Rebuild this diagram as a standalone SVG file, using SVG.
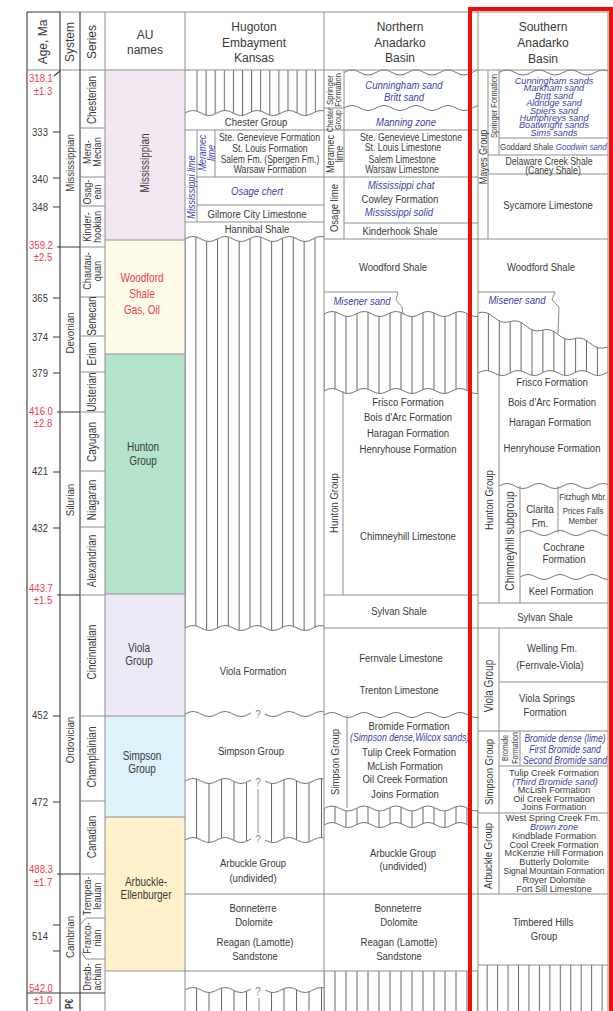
<svg xmlns="http://www.w3.org/2000/svg" width="613" height="1011" viewBox="0 0 613 1011">
<defs>
<style>
text{font-family:"Liberation Sans",Arial,sans-serif;font-size:11.5px;fill:#3a3a3a;text-anchor:middle;dominant-baseline:central}
.h{font-size:12px}
.i{font-style:italic;fill:#3c3fa6}
.r{fill:#e8404a}
.s{font-size:10.5px}
.m{font-size:11px}
.xs{font-size:9.5px}
.au{font-size:12px}
.q{font-size:10px;fill:#888}
.ln{fill:none;stroke:#8e8e8e;stroke-width:1}
.dk{fill:none;stroke:#3a3a3a;stroke-width:1.1}
.wv{fill:none;stroke:#777;stroke-width:1}
</style>
<pattern id="hH" patternUnits="userSpaceOnUse" x="184.5" y="0" width="10.83" height="10"><line x1="0.5" y1="0" x2="0.5" y2="10" stroke="#666" stroke-width="1"/></pattern>
<pattern id="hH9" patternUnits="userSpaceOnUse" x="187.4" y="0" width="9.1" height="10"><line x1="0.5" y1="0" x2="0.5" y2="10" stroke="#666" stroke-width="1"/></pattern>
<pattern id="hH3" patternUnits="userSpaceOnUse" x="183.5" y="0" width="12.5" height="10"><line x1="0.5" y1="0" x2="0.5" y2="10" stroke="#666" stroke-width="1"/></pattern>
<pattern id="hN" patternUnits="userSpaceOnUse" x="323.5" y="0" width="11" height="10"><line x1="0.5" y1="0" x2="0.5" y2="10" stroke="#666" stroke-width="1"/></pattern>
<pattern id="hS" patternUnits="userSpaceOnUse" x="477" y="0" width="10.9" height="10"><line x1="0.5" y1="0" x2="0.5" y2="10" stroke="#666" stroke-width="1"/></pattern>
<pattern id="hS2" patternUnits="userSpaceOnUse" x="476.2" y="0" width="10.45" height="10"><line x1="0.5" y1="0" x2="0.5" y2="10" stroke="#666" stroke-width="1"/></pattern>
<clipPath id="cH"><rect x="185" y="0" width="139" height="1011"/></clipPath>
<clipPath id="cN"><rect x="324" y="0" width="154" height="1011"/></clipPath>
<clipPath id="cS"><rect x="478" y="0" width="130" height="1011"/></clipPath>
</defs>
<rect x="0" y="0" width="613" height="1011" fill="#fff"/>

<g id="au-column">
<rect x="105" y="70" width="80" height="170" fill="#f3e7f1"/>
<rect x="105" y="240" width="80" height="114" fill="#fefce8"/>
<rect x="105" y="354" width="80" height="240" fill="#b4e4cb"/>
<rect x="105" y="594" width="80" height="122" fill="#eceaf6"/>
<rect x="105" y="716" width="80" height="101" fill="#ddf2fb"/>
<rect x="105" y="817" width="80" height="154" fill="#fff1c9"/>
<path class="ln" d="M105,240H185 M105,354H185 M105,594H185 M105,716H185 M105,817H185 M105,971H185"/>
<text class="h" x="145" y="35">AU</text>
<text class="h" x="145" y="50">names</text>
<text class="au" transform="matrix(0 -.83 1 0 145 163)">Mississippian</text>
<text class="au r" transform="matrix(.83 0 0 1 142 278)">Woodford</text>
<text class="au r" transform="matrix(.83 0 0 1 142 294)">Shale</text>
<text class="au r" transform="matrix(.83 0 0 1 142 310)">Gas, Oil</text>
<text class="au" transform="matrix(.83 0 0 1 143 447)">Hunton</text>
<text class="au" transform="matrix(.83 0 0 1 143 461)">Group</text>
<text class="au" transform="matrix(.83 0 0 1 139 648)">Viola</text>
<text class="au" transform="matrix(.83 0 0 1 139 661)">Group</text>
<text class="au" transform="matrix(.83 0 0 1 142 756)">Simpson</text>
<text class="au" transform="matrix(.83 0 0 1 142 769)">Group</text>
<text class="au" transform="matrix(.83 0 0 1 146 882)">Arbuckle-</text>
<text class="au" transform="matrix(.83 0 0 1 146 895)">Ellenburger</text>
</g>

<g id="hugoton">
<path clip-path="url(#cH)" fill="url(#hH9)" d="M185,70H329V113 q-8,-5 -16,0 t-16,0 t-16,0 t-16,0 t-16,0 t-16,0 t-16,0 t-16,0 t-16,0Z"/>
<rect x="186" y="71" width="6" height="46" fill="#fff"/>
<path clip-path="url(#cH)" fill="url(#hH)" d="M185,239 q8,-5 16,0 t16,0 t16,0 t16,0 t16,0 t16,0 t16,0 t16,0 t16,0 L329,628 q-8,-5 -16,0 t-16,0 t-16,0 t-16,0 t-16,0 t-16,0 t-16,0 t-16,0 t-16,0Z"/>
<path clip-path="url(#cH)" fill="url(#hH3)" d="M185,781 q8,-5 16,0 t16,0 t16,0 t16,0 t16,0 t16,0 t16,0 t16,0 t16,0 L329,840 q-8,-5 -16,0 t-16,0 t-16,0 t-16,0 t-16,0 t-16,0 t-16,0 t-16,0 t-16,0Z"/>
<path clip-path="url(#cH)" fill="url(#hH3)" d="M185,990 q8,-5 16,0 t16,0 t16,0 t16,0 t16,0 t16,0 t16,0 t16,0 t16,0 L329,1011H185Z"/>
<path clip-path="url(#cH)" class="wv" d="M185,113 q8,-5 16,0 t16,0 t16,0 t16,0 t16,0 t16,0 t16,0 t16,0 t16,0 M185,239 q8,-5 16,0 t16,0 t16,0 t16,0 t16,0 t16,0 t16,0 t16,0 t16,0 M185,628 q8,-5 16,0 t16,0 t16,0 t16,0 t16,0 t16,0 t16,0 t16,0 t16,0 M185,714 q8,-5 16,0 t16,0 t16,0 t16,0 t16,0 t16,0 t16,0 t16,0 t16,0 M185,781 q8,-5 16,0 t16,0 t16,0 t16,0 t16,0 t16,0 t16,0 t16,0 t16,0 M185,840 q8,-5 16,0 t16,0 t16,0 t16,0 t16,0 t16,0 t16,0 t16,0 t16,0 M185,990 q8,-5 16,0 t16,0 t16,0 t16,0 t16,0 t16,0 t16,0 t16,0 t16,0"/>
<rect x="251" y="707" width="14" height="14" fill="#fff"/>
<rect x="251" y="774" width="14" height="74" fill="#fff"/>
<rect x="251" y="983" width="14" height="28" fill="#fff"/>
<path class="ln" d="M258,789V833 M259,998V1011"/>
<text class="q" x="258" y="714">?</text>
<text class="q" x="258" y="782">?</text>
<text class="q" x="258" y="839">?</text>
<text class="q" x="258" y="991">?</text>
<path class="ln" d="M185,130H324 M197,130V222 M215,130V177 M197,177H324 M197,205H324 M185,222H324 M185,894H324 M185,971H324"/>
<text class="h" x="254" y="27">Hugoton</text>
<text class="h" x="254" y="43">Embayment</text>
<text class="h" x="254" y="58">Kansas</text>
<text transform="matrix(.83 0 0 1 256 122)">Chester Group</text>
<text class="i m" transform="matrix(0 -.83 1 0 191.5 187)">Mississippi lime</text>
<text class="i s" transform="matrix(0 -.83 1 0 202 153)">Meramec</text>
<text class="i s" transform="matrix(0 -.83 1 0 211 153)">lime</text>
<text class="s" transform="matrix(.83 0 0 1 269.5 137)">Ste. Genevieve Formation</text>
<text class="s" transform="matrix(.83 0 0 1 270 148)">St. Louis Formation</text>
<text style="font-size:10.3px" transform="matrix(.83 0 0 1 270 159)">Salem Fm. (Spergen Fm.)</text>
<text class="s" transform="matrix(.83 0 0 1 270 169)">Warsaw Formation</text>
<text class="i" transform="matrix(.83 0 0 1 257 191)">Osage chert</text>
<text transform="matrix(.83 0 0 1 257 214)">Gilmore City Limestone</text>
<text transform="matrix(.83 0 0 1 257 229)">Hannibal Shale</text>
<text transform="matrix(.83 0 0 1 253 671)">Viola Formation</text>
<text transform="matrix(.83 0 0 1 251 751)">Simpson Group</text>
<text transform="matrix(.83 0 0 1 253 863)">Arbuckle Group</text>
<text transform="matrix(.83 0 0 1 253 878)">(undivided)</text>
<text transform="matrix(.83 0 0 1 253 908)">Bonneterre</text>
<text transform="matrix(.83 0 0 1 254 922)">Dolomite</text>
<text transform="matrix(.83 0 0 1 255 942)">Reagan (Lamotte)</text>
<text transform="matrix(.83 0 0 1 255 956)">Sandstone</text>
</g>

<g id="northern">
<path clip-path="url(#cN)" fill="url(#hN)" d="M324,314 q8,-5 16,0 t16,0 t16,0 t16,0 t16,0 t16,0 t16,0 t16,0 t16,0 t16,0 L484,391 q-8,5 -16,0 t-16,0 t-16,0 t-16,0 t-16,0 t-16,0 t-16,0 t-16,0 t-16,0 t-16,0Z"/>
<path clip-path="url(#cN)" fill="url(#hN)" d="M324,808.5 q8,-5 16,0 t16,0 t16,0 t16,0 t16,0 t16,0 t16,0 t16,0 t16,0 t16,0 L484,825 q-8,5 -16,0 t-16,0 t-16,0 t-16,0 t-16,0 t-16,0 t-16,0 t-16,0 t-16,0 t-16,0Z"/>
<rect x="324" y="971" width="154" height="40" fill="url(#hN)"/>
<path clip-path="url(#cN)" class="wv" d="M344,72.5 q8,-5 16,0 t16,0 t16,0 t16,0 t16,0 t16,0 t16,0 t16,0 t16,0 M344,108 q8,-5 16,0 t16,0 t16,0 t16,0 t16,0 t16,0 t16,0 t16,0 t16,0 M324,314 q8,-5 16,0 t16,0 t16,0 t16,0 t16,0 t16,0 t16,0 t16,0 t16,0 t16,0 M324,391 q8,-5 16,0 t16,0 t16,0 t16,0 t16,0 t16,0 t16,0 t16,0 t16,0 t16,0 M324,715 q8,-5 16,0 t16,0 t16,0 t16,0 t16,0 t16,0 t16,0 t16,0 t16,0 t16,0 M324,808.5 q8,-5 16,0 t16,0 t16,0 t16,0 t16,0 t16,0 t16,0 t16,0 t16,0 t16,0 M324,825 q8,-5 16,0 t16,0 t16,0 t16,0 t16,0 t16,0 t16,0 t16,0 t16,0 t16,0"/>
<path class="ln" d="M344,70V239 M324,108H344 M324,130H478 M324,177H478 M344,223H478 M324,239H478 M343,391V595 M324,595H478 M324,628H478 M347,715V808 M324,894H478 M324,971H478 M324,292H398L396,300L402,307L403,315"/>
<text class="h" x="400" y="27">Northern</text>
<text class="h" x="400" y="43">Anadarko</text>
<text class="h" x="400" y="58">Basin</text>
<text style="font-size:9.5px" transform="matrix(0 -.83 1 0 329.5 90)">Springer</text>
<text style="font-size:9px" transform="matrix(0 -.83 1 0 338.5 90)">Formation</text>
<text class="i" transform="matrix(.83 0 0 1 404 85)">Cunningham sand</text>
<text class="i" transform="matrix(.83 0 0 1 404 97)">Britt sand</text>
<text style="font-size:8.5px" transform="matrix(0 -.83 1 0 330 120)">Chester</text>
<text style="font-size:8.5px" transform="matrix(0 -.83 1 0 338.5 120)">Group</text>
<text class="i" transform="matrix(.83 0 0 1 406 122)">Manning zone</text>
<text class="m" transform="matrix(0 -.83 1 0 330 154)">Meramec</text>
<text class="m" transform="matrix(0 -.83 1 0 339 154)">lime</text>
<text class="s" transform="matrix(.83 0 0 1 411 137)">Ste. Genevieve Limestone</text>
<text class="s" transform="matrix(.83 0 0 1 403 147)">St. Louis Limestone</text>
<text class="s" transform="matrix(.83 0 0 1 402 159)">Salem Limestone</text>
<text class="s" transform="matrix(.83 0 0 1 402 169)">Warsaw Limestone</text>
<text transform="matrix(0 -.83 1 0 334 208)">Osage lime</text>
<text class="i" transform="matrix(.83 0 0 1 401 185)">Mississippi chat</text>
<text transform="matrix(.83 0 0 1 400 199)">Cowley Formation</text>
<text class="i" transform="matrix(.83 0 0 1 399 212)">Mississippi solid</text>
<text transform="matrix(.83 0 0 1 400 231)">Kinderhook Shale</text>
<text transform="matrix(.83 0 0 1 393 267)">Woodford Shale</text>
<text class="i" transform="matrix(.83 0 0 1 362 301)">Misener sand</text>
<text transform="matrix(0 -.83 1 0 334 503)">Hunton Group</text>
<text transform="matrix(.83 0 0 1 408 402)">Frisco Formation</text>
<text transform="matrix(.83 0 0 1 408 417)">Bois d'Arc Formation</text>
<text transform="matrix(.83 0 0 1 408 433)">Haragan Formation</text>
<text transform="matrix(.83 0 0 1 408 449)">Henryhouse Formation</text>
<text transform="matrix(.83 0 0 1 408 536)">Chimneyhill Limestone</text>
<text transform="matrix(.83 0 0 1 399 611)">Sylvan Shale</text>
<text transform="matrix(.83 0 0 1 401 658)">Fernvale Limestone</text>
<text transform="matrix(.83 0 0 1 399 690)">Trenton Limestone</text>
<text transform="matrix(0 -.83 1 0 335 762)">Simpson Group</text>
<text transform="matrix(.83 0 0 1 409 726)">Bromide Formation</text>
<text class="i s" style="text-anchor:start" transform="matrix(.83 0 0 1 350 737)">(Simpson dense,Wilcox sands)</text>
<text transform="matrix(.83 0 0 1 409 752)">Tulip Creek Formation</text>
<text transform="matrix(.83 0 0 1 405 766)">McLish Formation</text>
<text transform="matrix(.83 0 0 1 405 779)">Oil Creek Formation</text>
<text transform="matrix(.83 0 0 1 405 794)">Joins Formation</text>
<text transform="matrix(.83 0 0 1 403 853)">Arbuckle Group</text>
<text transform="matrix(.83 0 0 1 403 866)">(undivided)</text>
<text transform="matrix(.83 0 0 1 398 908)">Bonneterre</text>
<text transform="matrix(.83 0 0 1 399 922)">Dolomite</text>
<text transform="matrix(.83 0 0 1 399 942)">Reagan (Lamotte)</text>
<text transform="matrix(.83 0 0 1 399 956)">Sandstone</text>
</g>

<g id="southern">
<path clip-path="url(#cS)" fill="url(#hS)" d="M478,313 q8,-2.85 16,4.3 t16,4.3 t16,4.3 t16,4.3 t16,4.3 t16,4.3 t16,4.3 t16,4.3 t16,4.3 L622,373 q-8,-5 -16,0 t-16,0 t-16,0 t-16,0 t-16,0 t-16,0 t-16,0 t-16,0 t-16,0Z"/>
<rect x="478" y="965" width="130" height="46" fill="url(#hS2)"/>
<path clip-path="url(#cS)" class="wv" d="M499,72.5 q8,-5 16,0 t16,0 t16,0 t16,0 t16,0 t16,0 t16,0 M478,313 q8,-2.85 16,4.3 t16,4.3 t16,4.3 t16,4.3 t16,4.3 t16,4.3 t16,4.3 t16,4.3 t16,4.3 M478,373 q8,-5 16,0 t16,0 t16,0 t16,0 t16,0 t16,0 t16,0 t16,0 t16,0 M499,486 q8,-5 16,0 t16,0 t16,0 t16,0 t16,0 t16,0 t16,0 M520,533 q8,-5 16,0 t16,0 t16,0 t16,0 t16,0 t16,0 M520,577 q8,-5 16,0 t16,0 t16,0 t16,0 t16,0 t16,0"/>
<path class="ln" d="M488,70V239 M499,70V155 M499,138H608 M488,155H608 M488,174H608 M478,239H608 M499,373V603 M520,486V603 M558,486V533 M478,603H608 M478,628H608 M499,628V731 M499,682H608 M478,731H608 M499,731V813 M520,731V766 M499,766H608 M478,813H608 M499,813V894 M478,894H608 M478,965H608 M478,292H555L552,300L559,307L558,334"/>
<text class="h" x="543" y="27">Southern</text>
<text class="h" x="543" y="43">Anadarko</text>
<text class="h" x="543" y="59">Basin</text>
<text class="m" transform="matrix(0 -.83 1 0 483 157)">Mayes Group</text>
<text style="font-size:9px" transform="matrix(0 -.83 1 0 494 106)">Springer Formation</text>
<g transform="translate(0,81) scale(1,0.78)">
<text class="i m" transform="matrix(.83 0 0 1 554 0)">Cunningham sands</text>
<text class="i m" transform="matrix(.83 0 0 1 554 9.5)">Markham sand</text>
<text class="i m" transform="matrix(.83 0 0 1 554 19)">Britt sand</text>
<text class="i m" transform="matrix(.83 0 0 1 554 28.5)">Aldridge sand</text>
<text class="i m" transform="matrix(.83 0 0 1 554 38)">Spiers sand</text>
<text class="i m" transform="matrix(.83 0 0 1 554 47.5)">Humphreys sand</text>
<text class="i m" transform="matrix(.83 0 0 1 554 57)">Boatwright sands</text>
<text class="i m" transform="matrix(.83 0 0 1 554 66.5)">Sims sands</text>
</g>
<text style="text-anchor:start;font-size:9.6px" transform="matrix(.83 0 0 1 500 146.5)">Goddard Shale <tspan class="i">Goodwin sand</tspan></text>
<text class="s" transform="matrix(.83 0 0 1 549 161)">Delaware Creek Shale</text>
<text class="s" transform="matrix(.83 0 0 1 553 170.5)">(Caney Shale)</text>
<text transform="matrix(.83 0 0 1 548 205)">Sycamore Limestone</text>
<text transform="matrix(.83 0 0 1 541 267)">Woodford Shale</text>
<text class="i" transform="matrix(.83 0 0 1 517 300)">Misener sand</text>
<text transform="matrix(0 -.83 1 0 489 500)">Hunton Group</text>
<text transform="matrix(.83 0 0 1 552 382)">Frisco Formation</text>
<text transform="matrix(.83 0 0 1 552 402)">Bois d'Arc Formation</text>
<text transform="matrix(.83 0 0 1 550 422)">Haragan Formation</text>
<text transform="matrix(.83 0 0 1 552 448)">Henryhouse Formation</text>
<text style="font-size:12.5px" transform="matrix(0 -.83 1 0 510 541)">Chimneyhill subgroup</text>
<text transform="matrix(.83 0 0 1 540 509)">Clarita</text>
<text transform="matrix(.83 0 0 1 540 523)">Fm.</text>
<text class="xs" transform="matrix(.83 0 0 1 583 497)">Fitzhugh Mbr.</text>
<text class="xs" transform="matrix(.83 0 0 1 583 511)">Prices Falls</text>
<text class="xs" transform="matrix(.83 0 0 1 583 521)">Member</text>
<text transform="matrix(.83 0 0 1 564 547)">Cochrane</text>
<text transform="matrix(.83 0 0 1 564 559)">Formation</text>
<text transform="matrix(.83 0 0 1 561 591)">Keel Formation</text>
<text transform="matrix(.83 0 0 1 545 617)">Sylvan Shale</text>
<text style="font-size:12px" transform="matrix(0 -.83 1 0 489 686)">Viola Group</text>
<text transform="matrix(.83 0 0 1 552 648)">Welling Fm.</text>
<text transform="matrix(.83 0 0 1 550 665)">(Fernvale-Viola)</text>
<text transform="matrix(.83 0 0 1 547 698)">Viola Springs</text>
<text transform="matrix(.83 0 0 1 545 712)">Formation</text>
<text transform="matrix(0 -.83 1 0 489 772)">Simpson Group</text>
<text style="font-size:8.5px" transform="matrix(0 -.83 1 0 505 748)">Bromide</text>
<text style="font-size:8.5px" transform="matrix(0 -.83 1 0 515 748)">Formation</text>
<text class="i" style="font-size:10.3px" transform="matrix(.83 0 0 1 565 738)">Bromide dense (lime)</text>
<text class="i" style="font-size:10.3px" transform="matrix(.83 0 0 1 565 749)">First Bromide sand</text>
<text class="i" style="font-size:10.3px" transform="matrix(.83 0 0 1 565 760)">Second Bromide sand</text>
<g transform="translate(0,773) scale(1,0.82)">
<text class="m" transform="matrix(.83 0 0 1 554 0)">Tulip Creek Formation</text>
<text class="m i" transform="matrix(.83 0 0 1 555 10.5)">(Third Bromide sand)</text>
<text class="m" transform="matrix(.83 0 0 1 554 21)">McLish Formation</text>
<text class="m" transform="matrix(.83 0 0 1 554 31.5)">Oil Creek Formation</text>
<text class="m" transform="matrix(.83 0 0 1 554 42)">Joins Formation</text>
</g>
<text transform="matrix(0 -.83 1 0 488 856)">Arbuckle Group</text>
<g transform="translate(0,818) scale(1,0.8)">
<text class="m" transform="matrix(.83 0 0 1 553 0)">West Spring Creek Fm.</text>
<text class="m i" transform="matrix(.83 0 0 1 554 11.1)">Brown zone</text>
<text class="m" transform="matrix(.83 0 0 1 554 22.2)">Kindblade Formation</text>
<text class="m" transform="matrix(.83 0 0 1 554 33.3)">Cool Creek Formation</text>
<text class="m" transform="matrix(.83 0 0 1 554 44.4)">McKenzie Hill Formation</text>
<text class="m" transform="matrix(.83 0 0 1 554 55.5)">Butterly Dolomite</text>
<text style="font-size:10.2px" transform="matrix(.83 0 0 1 554 66.6)">Signal Mountain Formation</text>
<text class="m" transform="matrix(.83 0 0 1 554 77.7)">Royer Dolomite</text>
<text class="m" transform="matrix(.83 0 0 1 554 88.8)">Fort Sill Limestone</text>
</g>
<text transform="matrix(.83 0 0 1 543 922)">Timbered Hills</text>
<text transform="matrix(.83 0 0 1 544 936)">Group</text>
</g>

<g id="frame">
<path class="ln" d="M60,12H608 M27,70H608 M105,12V1011 M185,12V1011 M324,12V1011 M478,12V1011 M608,12V1011"/>
<path class="dk" d="M27,12H60 M27,12V1011 M60,12V1011 M80,12V1011"/>
</g>

<g id="age-column">
<path class="dk" d="M53,132H60 M53,178H60 M53,207H60 M53,298H60 M53,337H60 M53,373H60 M53,472H60 M53,528H60 M53,716H60 M53,802H60 M53,925H60 M53,951H60 M54,76L60,71 M57,247H80 M57,412H80 M57,595H80 M57,874H80 M27,993H105"/>
<text class="r" transform="matrix(.83 0 0 1 41 78)">318.1</text>
<text class="r" transform="matrix(.83 0 0 1 43 91)">±1.3</text>
<text transform="matrix(.83 0 0 1 40 132)">333</text>
<text transform="matrix(.83 0 0 1 40 179)">340</text>
<text transform="matrix(.83 0 0 1 40 207)">348</text>
<text class="r" transform="matrix(.83 0 0 1 41 245)">359.2</text>
<text class="r" transform="matrix(.83 0 0 1 43 257)">±2.5</text>
<text transform="matrix(.83 0 0 1 40 298)">365</text>
<text transform="matrix(.83 0 0 1 40 337)">374</text>
<text transform="matrix(.83 0 0 1 40 373)">379</text>
<text class="r" transform="matrix(.83 0 0 1 41 411)">416.0</text>
<text class="r" transform="matrix(.83 0 0 1 43 423)">±2.8</text>
<text transform="matrix(.83 0 0 1 40 471)">421</text>
<text transform="matrix(.83 0 0 1 40 528)">432</text>
<text class="r" transform="matrix(.83 0 0 1 41 588)">443.7</text>
<text class="r" transform="matrix(.83 0 0 1 43 600)">±1.5</text>
<text transform="matrix(.83 0 0 1 40 715)">452</text>
<text transform="matrix(.83 0 0 1 40 802)">472</text>
<text class="r" transform="matrix(.83 0 0 1 41 869)">488.3</text>
<text class="r" transform="matrix(.83 0 0 1 43 882)">±1.7</text>
<text transform="matrix(.83 0 0 1 40 936)">514</text>
<text class="r" transform="matrix(.83 0 0 1 41 988)">542.0</text>
<text class="r" transform="matrix(.83 0 0 1 43 1000)">±1.0</text>
<text class="h" transform="rotate(-90 43 42)" x="43" y="42">Age, Ma</text>
</g>

<g id="system-column">
<text class="h" transform="rotate(-90 70 42)" x="70" y="42">System</text>
<text style="font-size:11.7px" transform="matrix(0 -.83 1 0 70 163)">Mississippian</text>
<text style="font-size:11.7px" transform="matrix(0 -.83 1 0 70 333)">Devonian</text>
<text style="font-size:11.7px" transform="matrix(0 -.83 1 0 70 500)">Silurian</text>
<text style="font-size:11.7px" transform="matrix(0 -.83 1 0 70 740)">Ordovician</text>
<text style="font-size:11.7px" transform="matrix(0 -.83 1 0 70 937)">Cambrian</text>
<text style="font-size:10px;font-weight:bold" transform="matrix(0 -.83 1 0 70 1004)">P€</text>
</g>

<g id="series-column">
<path class="ln" d="M80,128H105 M80,177H105 M80,206H105 M80,247H105 M80,297H105 M80,336H105 M80,372H105 M80,412H105 M80,471H105 M80,527H105 M80,595H105 M80,716H105 M80,801H105 M80,874H105 M80,925L86,918H105 M80,951L86,959H105"/>
<text class="h" transform="rotate(-90 92 42)" x="92" y="42">Series</text>
<text style="font-size:12px" transform="matrix(0 -.83 1 0 92 100)">Chesterian</text>
<text class="m" transform="matrix(0 -.83 1 0 87.5 152)">Mera-</text>
<text class="m" transform="matrix(0 -.83 1 0 97.5 152)">Mecian</text>
<text class="m" transform="matrix(0 -.83 1 0 87.5 192)">Osag-</text>
<text class="m" transform="matrix(0 -.83 1 0 97.5 192)">ean</text>
<text class="m" transform="matrix(0 -.83 1 0 87.5 227)">Kinder-</text>
<text class="m" transform="matrix(0 -.83 1 0 97.5 227)">hookian</text>
<text class="m" transform="matrix(0 -.83 1 0 87.5 271)">Chautau-</text>
<text class="m" transform="matrix(0 -.83 1 0 97.5 271)">quan</text>
<text style="font-size:12px" transform="matrix(0 -.83 1 0 92 316)">Senecan</text>
<text style="font-size:12px" transform="matrix(0 -.83 1 0 92 354)">Erian</text>
<text style="font-size:12px" transform="matrix(0 -.83 1 0 92 392)">Ulsterian</text>
<text style="font-size:12px" transform="matrix(0 -.83 1 0 92 442)">Cayugan</text>
<text style="font-size:12px" transform="matrix(0 -.83 1 0 92 500)">Niagaran</text>
<text style="font-size:12px" transform="matrix(0 -.83 1 0 92 561)">Alexandrian</text>
<text style="font-size:12px" transform="matrix(0 -.83 1 0 92 652)">Cincinnatian</text>
<text style="font-size:12px" transform="matrix(0 -.83 1 0 92 757)">Champlainian</text>
<text style="font-size:12px" transform="matrix(0 -.83 1 0 92 837)">Canadian</text>
<text class="m" transform="matrix(0 -.83 1 0 87.5 896)">Trempea-</text>
<text class="m" transform="matrix(0 -.83 1 0 97.5 896)">leauan</text>
<text class="m" transform="matrix(0 -.83 1 0 87.5 938)">Franco-</text>
<text class="m" transform="matrix(0 -.83 1 0 97.5 938)">nian</text>
<text class="m" transform="matrix(0 -.83 1 0 87.5 977)">Dresb-</text>
<text class="m" transform="matrix(0 -.83 1 0 97.5 977)">achian</text>
</g>

<g id="highlight">
<rect x="470" y="9" width="141" height="1012" fill="none" stroke="#f20d0d" stroke-width="4"/>
</g>
</svg>
